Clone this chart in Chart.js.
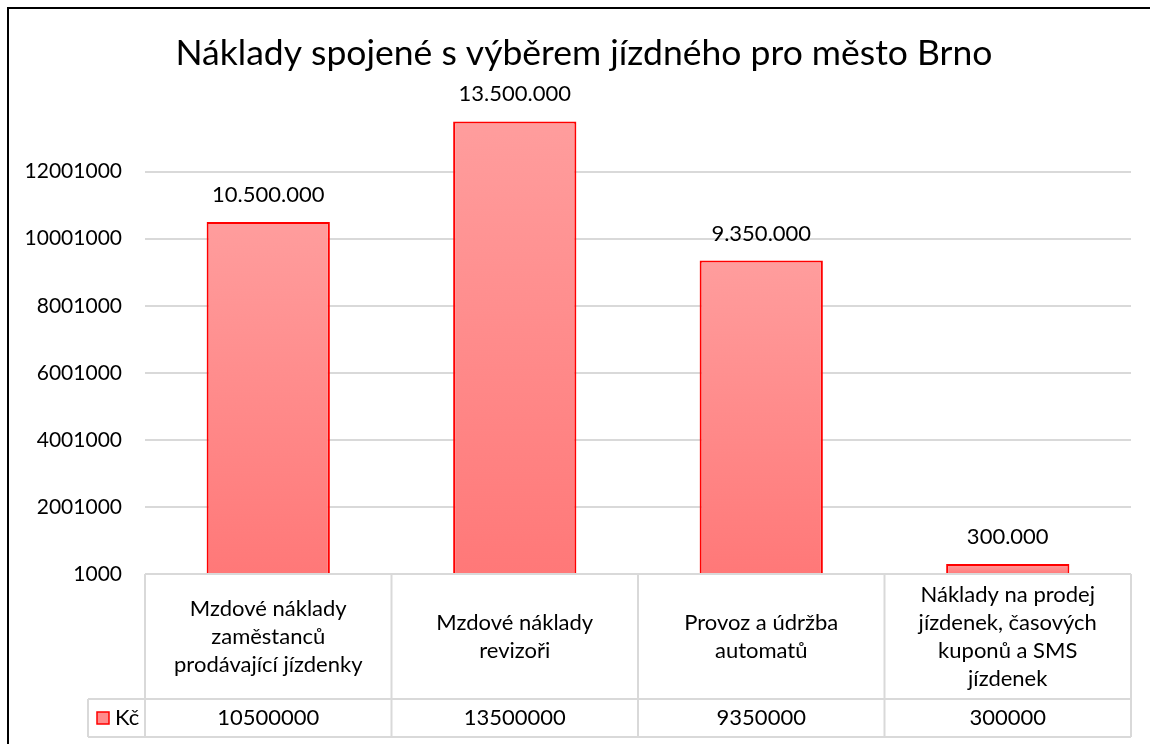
<!DOCTYPE html>
<html>
<head>
<meta charset="utf-8">
<script src="https://cdn.jsdelivr.net/npm/chart.js@4/dist/chart.umd.min.js"></script>
<style>
  html, body { margin: 0; padding: 0; background: #fff; overflow: hidden; }
  #frame { position: absolute; left: 7px; top: 7px; width: 1160px; height: 760px;
           border-left: 2px solid #000; border-top: 2px solid #000; }
  #wrap { width: 1150px; height: 735px; }
</style>
</head>
<body>
<div id="frame"><div id="wrap"><canvas id="chart"></canvas></div></div>
<script>
const titleText = 'Náklady spojené s výběrem jízdného pro město Brno';
const categories = [
  ['Mzdové náklady', 'zaměstanců', 'prodávající jízdenky'],
  ['Mzdové náklady', 'revizoři'],
  ['Provoz a údržba', 'automatů'],
  ['Náklady na prodej', 'jízdenek, časových', 'kuponů a SMS', 'jízdenek']
];
const seriesName = 'Kč';
const values = [10500000, 13500000, 9350000, 300000];
const yMin = 1000;
const yMax = 14001000;
const yStep = 2000000;

const FONT = 'Lato, "Open Sans", sans-serif';
const gridColor = '#d9d9d9';

function dotted(n) {
  return String(n).replace(/\B(?=(\d{3})+(?!\d))/g, '.');
}

// per-bar gradient, lighter on top like the office chart
function barFill(ctx) {
  const chart = ctx.chart;
  if (!chart.chartArea || ctx.dataIndex === undefined) return '#ff8c8c';
  const y = chart.scales.y;
  const top = y.getPixelForValue(values[ctx.dataIndex]);
  const base = y.getPixelForValue(yMin);
  const g = chart.ctx.createLinearGradient(0, top, 0, base);
  g.addColorStop(0, '#ff9d9d');
  g.addColorStop(1, '#ff7878');
  return g;
}

// left padding keeps the title centred like the original, but the
// y labels are wider than the axis box, so let them draw up to the edge
const widenYAxis = {
  id: 'widenYAxis',
  afterLayout(chart) {
    chart.scales.y.left = 0;
  }
};

const valueLabels = {
  id: 'valueLabels',
  afterDatasetsDraw(chart) {
    const ctx = chart.ctx;
    const meta = chart.getDatasetMeta(0);
    ctx.save();
    ctx.font = '22px ' + FONT;
    ctx.fillStyle = '#000';
    ctx.textAlign = 'center';
    ctx.textBaseline = 'middle';
    meta.data.forEach((bar, i) => {
      ctx.fillText(dotted(values[i]), bar.x, bar.y - 27);
    });
    ctx.restore();
  }
};

// data table under the plot
const dataTable = {
  id: 'dataTable',
  afterDraw(chart) {
    const ctx = chart.ctx;
    const x = chart.scales.x;
    const area = chart.chartArea;
    const colW = (area.right - area.left) / categories.length;
    const top = area.bottom;
    const mid = top + 125;
    const bottom = mid + 38;
    const legendLeft = area.left - 57;
    ctx.save();
    ctx.strokeStyle = gridColor;
    ctx.lineWidth = 2;
    ctx.beginPath();
    ctx.moveTo(area.left, top); ctx.lineTo(area.right, top);
    ctx.moveTo(legendLeft, mid); ctx.lineTo(area.right, mid);
    ctx.moveTo(legendLeft, bottom); ctx.lineTo(area.right, bottom);
    ctx.moveTo(legendLeft, mid); ctx.lineTo(legendLeft, bottom);
    for (let i = 0; i <= categories.length; i++) {
      const bx = area.left + colW * i;
      ctx.moveTo(bx, top); ctx.lineTo(bx, bottom);
    }
    ctx.stroke();

    ctx.fillStyle = '#000';
    ctx.textAlign = 'center';
    ctx.textBaseline = 'middle';
    ctx.font = '22px ' + FONT;
    const lh = 28;
    categories.forEach((lines, i) => {
      const cx = x.getPixelForValue(i);
      const cy = (top + mid) / 2;
      const y0 = cy - (lines.length - 1) * lh / 2;
      lines.forEach((t, j) => ctx.fillText(t, cx, y0 + j * lh));
      ctx.fillText(String(values[i]), cx, (mid + bottom) / 2);
    });

    // legend key
    const ky = (mid + bottom) / 2;
    ctx.fillStyle = '#ff8c8c';
    ctx.fillRect(legendLeft + 9, ky - 6, 12, 12);
    ctx.strokeStyle = '#ff0000';
    ctx.lineWidth = 1.5;
    ctx.strokeRect(legendLeft + 9, ky - 6, 12, 12);
    ctx.fillStyle = '#000';
    ctx.textAlign = 'left';
    ctx.fillText(seriesName, legendLeft + 27, ky);
    ctx.restore();
  }
};

new Chart(document.getElementById('chart'), {
  type: 'bar',
  data: {
    labels: categories,
    datasets: [{
      label: seriesName,
      data: values,
      backgroundColor: barFill,
      borderColor: '#ff0000',
      borderWidth: 2,
      barPercentage: 0.5,
      categoryPercentage: 1.0
    }]
  },
  options: {
    responsive: true,
    maintainAspectRatio: false,
    animation: false,
    layout: { padding: { left: 28, right: 28, top: 0, bottom: 170 } },
    plugins: {
      legend: { display: false },
      tooltip: { enabled: false },
      title: {
        display: true,
        text: titleText,
        color: '#000',
        font: { family: FONT, size: 35.5, weight: 'normal' },
        padding: { top: 23, bottom: 30 }
      }
    },
    scales: {
      x: {
        display: false
      },
      y: {
        min: yMin,
        max: yMax,
        border: { display: false },
        grid: {
          color: (c) => (c.tick && c.tick.value >= yMax ? 'rgba(0,0,0,0)' : gridColor),
          lineWidth: 2,
          drawTicks: false
        },
        ticks: {
          stepSize: yStep,
          padding: 23,
          color: '#000',
          font: { family: FONT, size: 21 },
          callback: (v) => (v >= yMax ? '' : String(v))
        },
        afterFit: (s) => { s.width = 108; }
      }
    }
  },
  plugins: [widenYAxis, valueLabels, dataTable]
});
</script>
</body>
</html>
